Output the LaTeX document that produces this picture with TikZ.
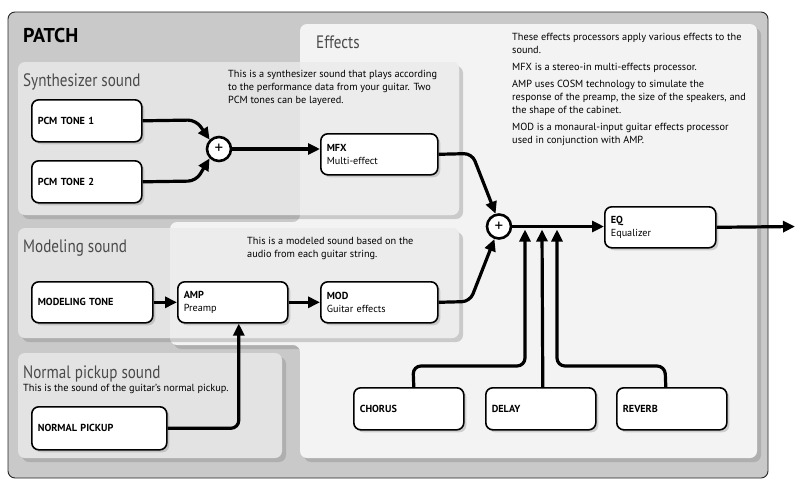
\documentclass[tikz,border=0pt]{standalone}
\usepackage{fontspec}
\setmainfont{PT Sans}
\newfontfamily\headfont[FakeStretch=0.84]{PT Sans}
\usetikzlibrary{arrows.meta,shadows,calc}
\definecolor{patchbg}{HTML}{C9C9C9}
\definecolor{effbg}{HTML}{F3F3F3}
\definecolor{panelbg}{HTML}{E3E3E3}
\definecolor{overlapbg}{HTML}{ECECEC}
\definecolor{headgray}{HTML}{4A4A4A}
\begin{document}
\begin{tikzpicture}[x=1pt,y=-1pt,
  box/.style={draw, line width=1.6pt, rounded corners=7pt, fill=white,
    drop shadow={opacity=0.32, shadow xshift=2.5pt, shadow yshift=-2.5pt},
    anchor=north west, font=\fontsize{10.2}{13.5}\selectfont, align=left,
    inner xsep=6pt, inner ysep=0pt},
  conn/.style={line width=3.2pt, rounded corners=8pt, -{Triangle[length=12pt,width=11pt]}},
  sum/.style={circle, draw, line width=2.6pt, fill=white, minimum size=24pt,
    inner sep=0pt, font=\fontsize{17}{17}\selectfont},
  panel/.style={rounded corners=7pt, fill=panelbg,
    drop shadow={opacity=0.35, shadow xshift=4pt, shadow yshift=-4pt}},
  head/.style={anchor=base west, inner sep=0pt, text=headgray,
    font=\headfont\fontsize{18}{18}\selectfont},
  desc/.style={anchor=north west, inner sep=0pt, align=left,
    font=\fontsize{10.3}{13}\selectfont},
]
\fill[white] (0,0) rectangle (809,491);
\useasboundingbox (0,0) rectangle (809,491);

% PATCH frame
\draw[fill=patchbg, draw=black!85, line width=0.9pt, rounded corners=7pt] (8,12) rectangle (768,478);

% Effects region
\path[fill=effbg, rounded corners=7pt,
  drop shadow={opacity=0.35, shadow xshift=4pt, shadow yshift=-4pt}]
  (300,24) -- (757,24) -- (757,458) -- (300,458) -- (300,345) -- (170,345)
  -- (170,222) -- (300,222) -- cycle;

% Synthesizer panel
\path[panel] (18,62) rectangle (459,215);
\begin{scope}
  \clip[rounded corners=7pt] (18,62) rectangle (459,215);
  \fill[overlapbg] (300,40) rectangle (470,230);
\end{scope}

% Modeling panel
\path[panel] (18,228) rectangle (459,338);
\begin{scope}
  \clip[rounded corners=7pt] (18,228) rectangle (459,338);
  \fill[overlapbg, rounded corners=7pt] (170,222) rectangle (470,345);
\end{scope}

% Normal pickup panel
\path[panel] (18,353) rectangle (282,458);

% Titles
\node[anchor=base west, inner sep=0pt, font=\bfseries\fontsize{20}{20}\selectfont] (patch) at (23,42) {PATCH};
\node[head] (hEff) at (316,48) {Effects};
\node[head] (hSyn) at (23,86) {Synthesizer sound};
\node[head] (hMod) at (23,252) {Modeling sound};
\node[head] (hNor) at (23,378) {Normal pickup sound};

% Descriptions
\node[desc] (dSyn) at (228,70) {This is a synthesizer sound that plays according\\to the performance data from your guitar. Two\\PCM tones can be layered.};
\node[desc] (dMod) at (247,237) {This is a modeled sound based on the\\audio from each guitar string.};
\node[desc] (dNor) at (23,384) {This is the sound of the guitar's normal pickup.};
\node[desc] (dEff) at (512,33) {These effects processors apply various effects to the\\sound.\\[4pt]MFX is a stereo-in multi-effects processor.\\[4pt]AMP uses COSM technology to simulate the\\response of the preamp, the size of the speakers, and\\the shape of the cabinet.\\[4pt]MOD is a monaural-input guitar effects processor\\used in conjunction with AMP.};

% Boxes
\node[box, text width=98pt, minimum height=42pt] (pcm1) at (31,99) {\textbf{PCM TONE 1}};
\node[box, text width=98pt, minimum height=42pt] (pcm2) at (31,160) {\textbf{PCM TONE 2}};
\node[box, text width=105pt, minimum height=41pt] (mfx) at (320,133) {\textbf{MFX}\\Multi-effect};
\node[box, text width=99pt, minimum height=41pt] (eq) at (604,206) {\textbf{EQ}\\Equalizer};
\node[box, text width=109pt, minimum height=41pt] (modtone) at (31,281) {\textbf{MODELING TONE}};
\node[box, text width=98pt, minimum height=41pt] (amp) at (177,281) {\textbf{AMP}\\Preamp};
\node[box, text width=105pt, minimum height=41pt] (mod) at (320,281) {\textbf{MOD}\\Guitar effects};
\node[box, text width=123pt, minimum height=43pt] (npu) at (31,406) {\textbf{NORMAL PICKUP}};
\node[box, text width=98pt, minimum height=42pt] (chorus) at (353,387) {\textbf{CHORUS}};
\node[box, text width=98pt, minimum height=42pt] (delay) at (485,387) {\textbf{DELAY}};
\node[box, text width=98pt, minimum height=42pt] (reverb) at (616,387) {\textbf{REVERB}};

% Mixers
\node[sum] (c1) at (219,149) {+};
\node[sum] (c2) at (499,226.5) {+};

% Connectors
\coordinate (out) at (795,226.5);
\coordinate (j1) at (525,229.5);
\coordinate (j2) at (542,229.5);
\coordinate (j3) at (557,229.5);

\draw[conn] (pcm1.east) -- (196,120) -- (c1.135);
\draw[conn] (pcm2.east) -- (196,181) -- (c1.225);
\draw[conn] (c1.east) -- (c1.east -| mfx.west);
\draw[conn] (mfx.east) -- (472,153.5) -- (c2.105);
\draw[conn] (mod.east) -- (470,301.5) -- (c2.250);
\draw[conn] (c2.east) -- (c2.east -| eq.west);
\draw[conn] (eq.east) -- (out);
\draw[conn] (modtone.east) -- (amp.west);
\draw[conn] (amp.east) -- (mod.west);
\draw[conn] (npu.east) -| ([xshift=6pt]amp.south);
\draw[conn] ([xshift=5pt]chorus.north) -- (413,366) -- (525,366) -- (j1);
\draw[conn] ([xshift=2pt]delay.north) -- (j2);
\draw[conn] ([xshift=-6pt]reverb.north) -- (665,366) -- (557,366) -- (j3);
\end{tikzpicture}
\end{document}
